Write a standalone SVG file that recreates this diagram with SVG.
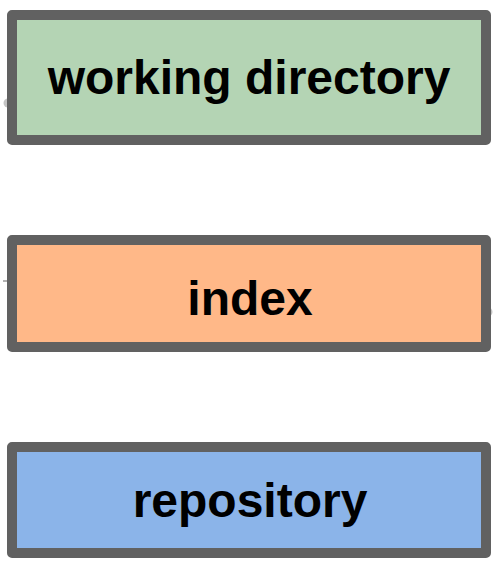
<svg xmlns="http://www.w3.org/2000/svg" width="499" height="569" viewBox="0 0 499 569">
<style>
.box{stroke:#616161;stroke-width:10;stroke-linejoin:round}
.lbl{font-family:"Liberation Sans",Arial,sans-serif;font-weight:bold;font-size:48px;fill:#000;text-anchor:middle}
.dot{fill:#c4c4c4}
</style>
<rect width="499" height="569" fill="#ffffff"/>
<g id="connectors">
<circle class="dot" cx="8" cy="103" r="4.5"/>
<circle class="dot" cx="488" cy="312" r="4.5"/>
<path d="M3 281 L7 281" stroke="#999" stroke-width="1.5"/>
</g>
<g id="working-directory">
<rect class="box" x="12" y="15" width="474" height="125" fill="#b4d4b4"/>
<text class="lbl" x="249" y="94">working directory</text>
</g>
<g id="index">
<rect class="box" x="12" y="240" width="474" height="107" fill="#ffb888"/>
<text class="lbl" x="250" y="315">index</text>
</g>
<g id="repository">
<rect class="box" x="12" y="447" width="474" height="106" fill="#8bb4e9"/>
<text class="lbl" x="250" y="517">repository</text>
</g>
</svg>
